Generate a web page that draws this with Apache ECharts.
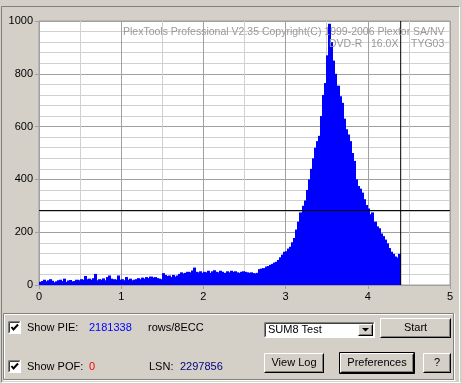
<!DOCTYPE html>
<html>
<head>
<meta charset="utf-8">
<script src="https://cdn.jsdelivr.net/npm/echarts@6/dist/echarts.min.js"></script>
<style>
html,body{margin:0;padding:0;background:#D4D0C8;}
#chart{width:462px;height:384px;}
</style>
</head>
<body>
<div id="chart"></div>
<script>
// ---- data ----
const binWidth = 0.025;
const pieValues = [
  12,15,20,14,18,22,16,10,14,18,20,15,24,12,17,19,14,15,20,18,
  22,20,34,22,24,20,26,42,18,22,20,25,18,30,36,24,22,20,36,20,
  22,18,30,20,24,18,20,22,26,22,28,24,30,26,32,28,30,26,24,22,
  45,38,34,36,30,38,32,36,42,48,44,46,50,48,55,66,50,48,52,46,
  50,48,54,46,52,56,50,48,54,50,46,52,48,54,50,52,48,46,50,52,
  50,48,46,48,45,44,46,60,62,64,70,72,76,80,85,88,95,105,115,126,
  128,138,145,162,178,210,240,275,300,320,360,400,440,480,520,545,565,640,720,765,
  870,990,920,850,800,755,715,690,630,590,570,545,500,470,400,375,365,350,325,303,
  290,268,275,240,222,215,195,185,172,158,140,126,118,108,104,118
];
const xTicks = [0,1,2,3,4,5];
const yTicks = [0,200,400,600,800,1000];
const cursorX = 4.4;
const cursorY = 282;
const titleLine = 'PlexTools Professional V2.35 Copyright(C) 1999-2006 Plextor SA/NV';
const discInfo = ['DVD-R', '16.0X', 'TYG03'];
const pieTotal = '2181338';
const pofTotal = '0';
const lsnValue = '2297856';

// ---- build ----
const FONT = '11px "Liberation Sans", Arial, sans-serif';
const WFONT = '10.5px "Liberation Sans", Arial, sans-serif';
const histData = pieValues.map((v, i) => [i * binWidth, (i + 1) * binWidth, v]);

function line(x1, y1, x2, y2, color) {
  return {type:'line', silent:true, z:10, shape:{x1, y1, x2, y2}, style:{stroke:color, lineWidth:1}};
}
function text(x, y, str, color, align, font) {
  return {type:'text', x, y, silent:true, z:20,
    style:{text:str, fill:color || '#000', font:font || FONT, align:align || 'left', verticalAlign:'middle'}};
}
function button(x, y, w, h, label, isDefault) {
  const els = [];
  els.push({type:'rect', silent:true, z:9, shape:{x, y, width:w, height:h}, style:{fill:'#D4D0C8'}});
  let x0 = x + 0.5, y0 = y + 0.5, x1 = x + w - 0.5, y1 = y + h - 0.5;
  if (isDefault) {
    els.push(line(x0, y0, x1, y0, '#000'), line(x0, y0, x0, y1, '#000'),
             line(x0, y1, x1, y1, '#000'), line(x1, y0, x1, y1, '#000'));
    x0 += 1; y0 += 1; x1 -= 1; y1 -= 1;
  }
  els.push(line(x0, y0, x1, y0, '#FFFFFF'), line(x0, y0, x0, y1, '#FFFFFF'),
           line(x0, y1, x1 + 0.5, y1, '#000'), line(x1, y0, x1, y1, '#000'),
           line(x0 + 1, y1 - 1, x1 - 1, y1 - 1, '#808080'), line(x1 - 1, y0 + 1, x1 - 1, y1 - 1, '#808080'));
  els.push(text(x + w / 2, y + h / 2, label, '#000', 'center'));
  return els;
}
function checkbox(x, y) {
  const s = 13;
  return [
    {type:'rect', silent:true, z:9, shape:{x, y, width:s, height:s}, style:{fill:'#FFFFFF'}},
    line(x + 0.5, y + 0.5, x + s - 0.5, y + 0.5, '#808080'),
    line(x + 0.5, y + 0.5, x + 0.5, y + s - 0.5, '#808080'),
    line(x + 1.5, y + 1.5, x + s - 1.5, y + 1.5, '#404040'),
    line(x + 1.5, y + 1.5, x + 1.5, y + s - 1.5, '#404040'),
    line(x + 0.5, y + s - 0.5, x + s, y + s - 0.5, '#FFFFFF'),
    line(x + s - 0.5, y, x + s - 0.5, y + s, '#FFFFFF'),
    {type:'polyline', silent:true, z:11, shape:{points:[[x + 3.5, y + 6], [x + 5.5, y + 8.5], [x + 10, y + 3.5]]},
      style:{stroke:'#000', lineWidth:2, fill:null}}
  ];
}

const graphics = [];
// outer sunken panel
graphics.push(line(1.5, 6.5, 459.5, 6.5, '#808080'), line(1.5, 6.5, 1.5, 382.5, '#808080'),
              line(1.5, 382.5, 460.5, 382.5, '#FFFFFF'), line(459.5, 6.5, 459.5, 382.5, '#FFFFFF'));
// group box (etched)
graphics.push(line(3.5, 313.5, 453.5, 313.5, '#808080'), line(4.5, 314.5, 452.5, 314.5, '#FFFFFF'),
              line(3.5, 313.5, 3.5, 379.5, '#808080'), line(4.5, 314.5, 4.5, 378.5, '#FFFFFF'),
              line(3.5, 379.5, 454.5, 379.5, '#808080'), line(3.5, 380.5, 455.5, 380.5, '#FFFFFF'),
              line(453.5, 313.5, 453.5, 379.5, '#808080'), line(454.5, 313.5, 454.5, 380.5, '#FFFFFF'));
// plot watermark text
graphics.push(text(123, 32.5, titleLine, '#999999', 'left', WFONT));
graphics.push(text(329, 44.5, discInfo[0], '#999999', 'left', WFONT));
graphics.push(text(371, 44.5, discInfo[1], '#999999', 'left', WFONT));
graphics.push(text(411, 44.5, discInfo[2], '#999999', 'left', WFONT));
// controls row 1
graphics.push(...checkbox(8, 321));
graphics.push(text(27, 327.5, 'Show PIE:'));
graphics.push(text(89, 327.5, pieTotal, '#0000FF'));
graphics.push(text(148, 327.5, 'rows/8ECC'));
// combo box
graphics.push({type:'rect', silent:true, z:9, shape:{x:264, y:322, width:111, height:16}, style:{fill:'#FFFFFF'}});
graphics.push(line(264.5, 322.5, 374.5, 322.5, '#808080'), line(264.5, 322.5, 264.5, 337.5, '#808080'),
              line(265.5, 323.5, 373.5, 323.5, '#404040'), line(265.5, 323.5, 265.5, 336.5, '#404040'),
              line(264.5, 337.5, 375, 337.5, '#FFFFFF'), line(374.5, 322, 374.5, 338, '#FFFFFF'));
graphics.push(text(268, 330, 'SUM8 Test'));
graphics.push(...button(358, 324, 15, 12, '', false));
graphics.push({type:'polygon', silent:true, z:12, shape:{points:[[362, 328], [369, 328], [365.5, 331.5]]}, style:{fill:'#000'}});
graphics.push(...button(380, 318, 71, 20, 'Start', false));
// controls row 2
graphics.push(...checkbox(8, 360));
graphics.push(text(27, 366.5, 'Show POF:'));
graphics.push(text(89, 366.5, pofTotal, '#FF0000'));
graphics.push(text(149, 366.5, 'LSN:'));
graphics.push(text(180, 366.5, lsnValue, '#000080'));
graphics.push(...button(264, 353, 60, 20, 'View Log', false));
graphics.push(...button(339, 352, 76, 22, 'Preferences', true));
graphics.push(...button(423, 353, 28, 20, '?', false));

const chart = echarts.init(document.getElementById('chart'), null, {renderer:'canvas'});
chart.setOption({
  backgroundColor:'#D4D0C8',
  animation:false,
  textStyle:{fontFamily:'"Liberation Sans", Arial, sans-serif'},
  grid:{left:39, top:21, width:411, height:264, show:true, backgroundColor:'#FFFFFF', borderColor:'#A0A0A0', borderWidth:1},
  xAxis:{
    type:'value', min:xTicks[0], max:xTicks[xTicks.length - 1], interval:1,
    axisLine:{show:true, lineStyle:{color:'#A0A0A0'}},
    axisTick:{show:true, length:4, lineStyle:{color:'#A0A0A0'}},
    axisLabel:{color:'#000', fontSize:11, margin:6, fontFamily:'"Liberation Sans", Arial, sans-serif',
      formatter:function(v){ return String(v); }},
    splitLine:{show:true, lineStyle:{color:'#A0A0A0'}},
    minorTick:{show:false, splitNumber:2},
    minorSplitLine:{show:true, lineStyle:{color:'#D0D0D0'}}
  },
  yAxis:{
    type:'value', min:yTicks[0], max:yTicks[yTicks.length - 1], interval:200,
    axisLine:{show:true, lineStyle:{color:'#A0A0A0'}},
    axisTick:{show:true, length:4, lineStyle:{color:'#A0A0A0'}},
    axisLabel:{color:'#000', fontSize:11, margin:6, fontFamily:'"Liberation Sans", Arial, sans-serif',
      formatter:function(v){ return String(v); }},
    splitLine:{show:true, lineStyle:{color:'#A0A0A0'}},
    minorTick:{show:false, splitNumber:5},
    minorSplitLine:{show:true, lineStyle:{color:'#D0D0D0'}}
  },
  series:[
    {
      type:'custom', name:'PIE', clip:true, z:3,
      encode:{x:[0, 1], y:2},
      data:histData,
      renderItem:function(params, api){
        const p1 = api.coord([api.value(0), api.value(2)]);
        const p2 = api.coord([api.value(1), 0]);
        const x0 = Math.floor(p1[0]);
        const x1 = Math.ceil(p2[0]);
        return {type:'rect', shape:{x:x0, y:p1[1], width:x1 - x0, height:p2[1] - p1[1]},
                style:{fill:'#0000FF', stroke:null}};
      }
    },
    {
      type:'line', name:'cursorV', z:5, symbol:'none', silent:true,
      data:[[cursorX, 0], [cursorX, 1000]],
      lineStyle:{color:'#000', width:1}
    },
    {
      type:'line', name:'cursorH', z:5, symbol:'none', silent:true,
      data:[[0, cursorY], [5, cursorY]],
      lineStyle:{color:'#000', width:1}
    }
  ],
  graphic:{elements:graphics}
});
</script>
</body>
</html>
